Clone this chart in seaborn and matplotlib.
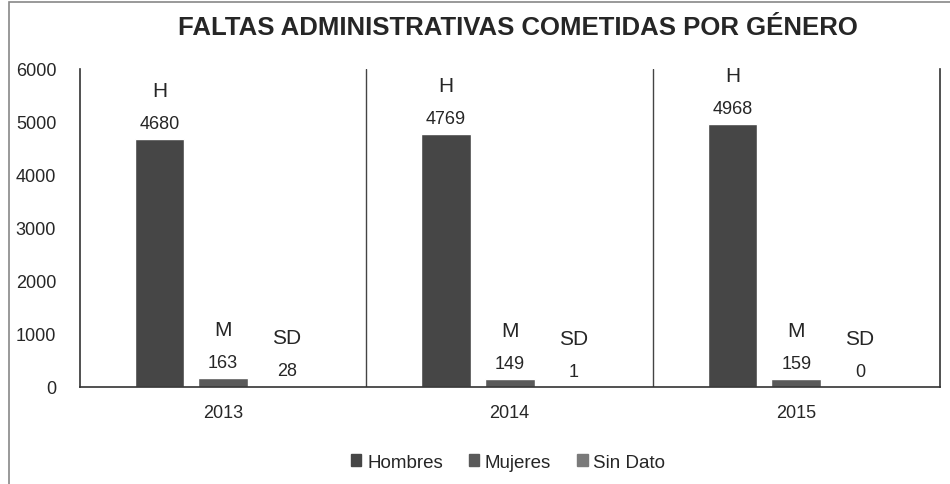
import pandas as pd
import matplotlib.pyplot as plt
import seaborn as sns
from matplotlib import font_manager
from matplotlib.patches import Rectangle

# datos
anios = ["2013", "2014", "2015"]
generos = ["Hombres", "Mujeres", "Sin Dato"]
siglas = ["H", "M", "SD"]
hombres = [4680, 4769, 4968]
mujeres = [163, 149, 159]
sin_dato = [28, 1, 0]

df = pd.DataFrame({
    "Año": anios * 3,
    "Género": [g for g in generos for _ in anios],
    "Faltas": hombres + mujeres + sin_dato,
})

sns.set_theme(style="white")
plt.rcParams['font.family'] = ['Liberation Sans', 'DejaVu Sans']

nombres = {f.name for f in font_manager.fontManager.ttflist}
fuente_titulo = 'Liberation Sans Narrow' if 'Liberation Sans Narrow' in nombres else 'Liberation Sans'

colores = ["#464646", "#5a5a5a", "#7a7a7a"]

fig = plt.figure(figsize=(9.5, 4.85), dpi=100)
ax = fig.add_axes([0.084, 0.2, 0.905, 0.656])

sns.barplot(data=df, x="Año", y="Faltas", hue="Género", palette=colores,
            width=0.667, gap=0.22, ax=ax, legend=False)

ax.set_ylim(0, 6000)
ax.set_xlim(-0.5, 2.5)
ax.set_yticks(range(0, 6001, 1000))
ax.set_xlabel("")
ax.set_ylabel("")
ax.tick_params(axis='y', labelsize=13, pad=17, length=0)
ax.tick_params(axis='x', labelsize=13, pad=12, length=0)

ax.spines["top"].set_visible(False)
for s in ["left", "right", "bottom"]:
    ax.spines[s].set_color("#333333")
    ax.spines[s].set_linewidth(1.2)

# separadores entre años
for xs in [0.5, 1.5]:
    ax.axvline(xs, color="#444444", lw=1.0)

# etiquetas
for cont, sig in zip(ax.containers, siglas):
    ax.bar_label(cont, fmt="%d", padding=5, fontsize=13)
    ax.bar_label(cont, labels=[sig] * len(cont), padding=28, fontsize=15)

fig.text(0.545, 0.942, "FALTAS ADMINISTRATIVAS COMETIDAS POR GÉNERO",
         ha="center", va="center", fontsize=18.5, fontweight="bold",
         family=fuente_titulo)

handles = [Rectangle((0, 0), 1, 1, color=c) for c in colores]
fig.legend(handles, generos, loc="center", bbox_to_anchor=(0.535, 0.045),
           ncol=3, frameon=False, fontsize=13.5, handlelength=0.55,
           handleheight=0.55, handletextpad=0.3, columnspacing=1.4)

fig.patches.append(Rectangle((0.009, -0.01), 1.0, 1.004, transform=fig.transFigure,
                             fill=False, edgecolor="#888888", lw=1.2))

fig.savefig("out.png", dpi=100)
